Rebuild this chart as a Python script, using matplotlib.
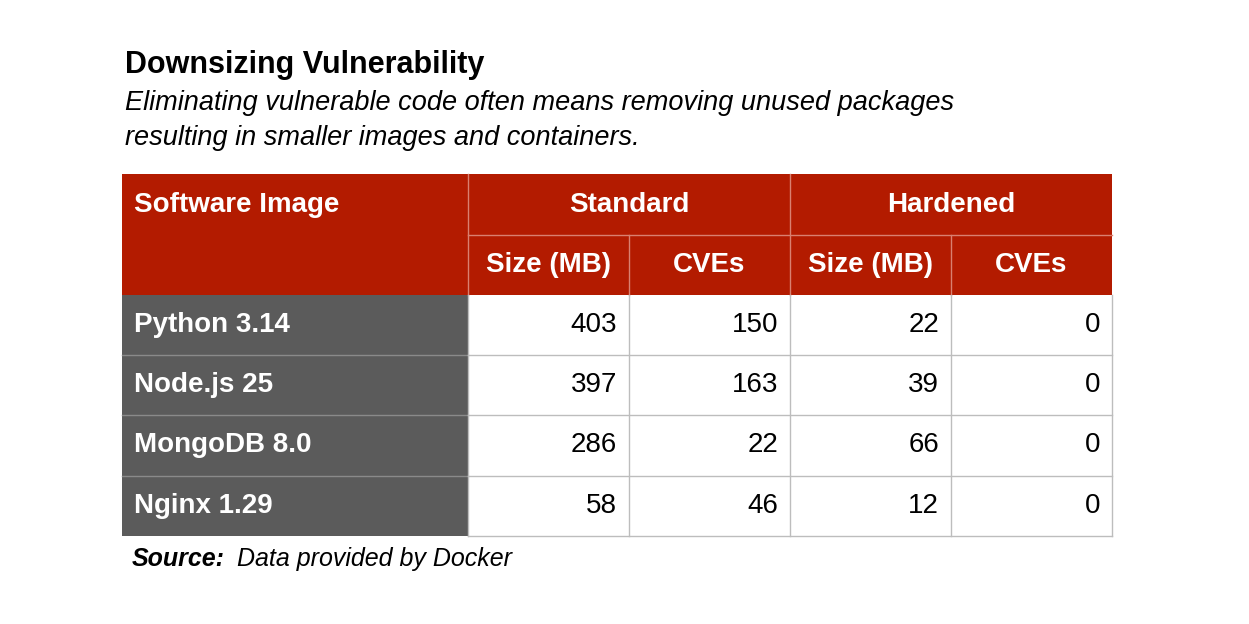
import matplotlib.pyplot as plt
from matplotlib.patches import Rectangle

plt.rcParams['font.family'] = ['Liberation Sans', 'DejaVu Sans']

title = 'Downsizing Vulnerability'
subtitle = ['Eliminating vulnerable code often means removing unused packages',
            'resulting in smaller images and containers.']
groups = ['Standard', 'Hardened']
sub_headers = ['Size (MB)', 'CVEs', 'Size (MB)', 'CVEs']
images = ['Python 3.14', 'Node.js 25', 'MongoDB 8.0', 'Nginx 1.29']
std_size = [403, 397, 286, 58]
std_cves = [150, 163, 22, 46]
hard_size = [22, 39, 66, 12]
hard_cves = [0, 0, 0, 0]

RED = '#B31B00'
GRAY = '#5B5B5B'
LINE = '#BDBDBD'

fig = plt.figure(figsize=(12.49, 6.24), dpi=100)
ax = fig.add_axes([0, 0, 1, 1])
ax.set_xlim(0, 1249)
ax.set_ylim(624, 0)
ax.axis('off')

col_x = [122, 468, 629, 790, 951, 1112]
row_y = [174, 235, 295, 355, 415, 476, 536]

# header
ax.add_patch(Rectangle((col_x[0], row_y[0]), col_x[-1] - col_x[0], row_y[2] - row_y[0],
                       color=RED, lw=0))
ax.plot([col_x[1], col_x[-1]], [row_y[1], row_y[1]], color='#D98070', lw=1)
for x in [col_x[1], col_x[3]]:
    ax.plot([x, x], [row_y[0], row_y[2]], color='#D98070', lw=1)
for x in [col_x[2], col_x[4]]:
    ax.plot([x, x], [row_y[1], row_y[2]], color='#D98070', lw=1)

hdr = dict(color='white', fontsize=20, fontweight='bold', va='center')
ax.text(col_x[0] + 12, (row_y[0] + row_y[1]) / 2, 'Software Image', ha='left', **hdr)
for i, g in enumerate(groups):
    ax.text((col_x[1 + 2 * i] + col_x[3 + 2 * i]) / 2, (row_y[0] + row_y[1]) / 2, g,
            ha='center', **hdr)
for i, s in enumerate(sub_headers):
    ax.text((col_x[1 + i] + col_x[2 + i]) / 2, (row_y[1] + row_y[2]) / 2, s,
            ha='center', **hdr)

# body
ax.add_patch(Rectangle((col_x[0], row_y[2]), col_x[1] - col_x[0], row_y[-1] - row_y[2],
                       color=GRAY, lw=0))
cols = [std_size, std_cves, hard_size, hard_cves]
for r, name in enumerate(images):
    y0, y1 = row_y[2 + r], row_y[3 + r]
    yc = (y0 + y1) / 2
    ax.text(col_x[0] + 12, yc, name, ha='left', **hdr)
    for c, vals in enumerate(cols):
        ax.text(col_x[2 + c] - 12, yc, str(vals[r]), ha='right', va='center',
                fontsize=20, color='black')
    if r > 0:
        ax.plot([col_x[0], col_x[1]], [y0, y0], color='#8A8A8A', lw=1)
        ax.plot([col_x[1], col_x[-1]], [y0, y0], color=LINE, lw=1)
for x in col_x[1:]:
    ax.plot([x, x], [row_y[2], row_y[-1]], color=LINE, lw=1)
ax.plot([col_x[1], col_x[-1]], [row_y[-1], row_y[-1]], color=LINE, lw=1)

# titles
ax.text(125, 65, title, fontsize=22, fontweight='bold', va='center', ha='left')
for i, line in enumerate(subtitle):
    ax.text(125, 103 + 35 * i, line, fontsize=19.5, style='italic', va='center', ha='left')

ax.text(132, 559, 'Source:', fontsize=18, fontweight='bold', style='italic', va='center')
ax.text(237, 559, 'Data provided by Docker', fontsize=18, style='italic', va='center')

fig.savefig('out.png', dpi=100)
